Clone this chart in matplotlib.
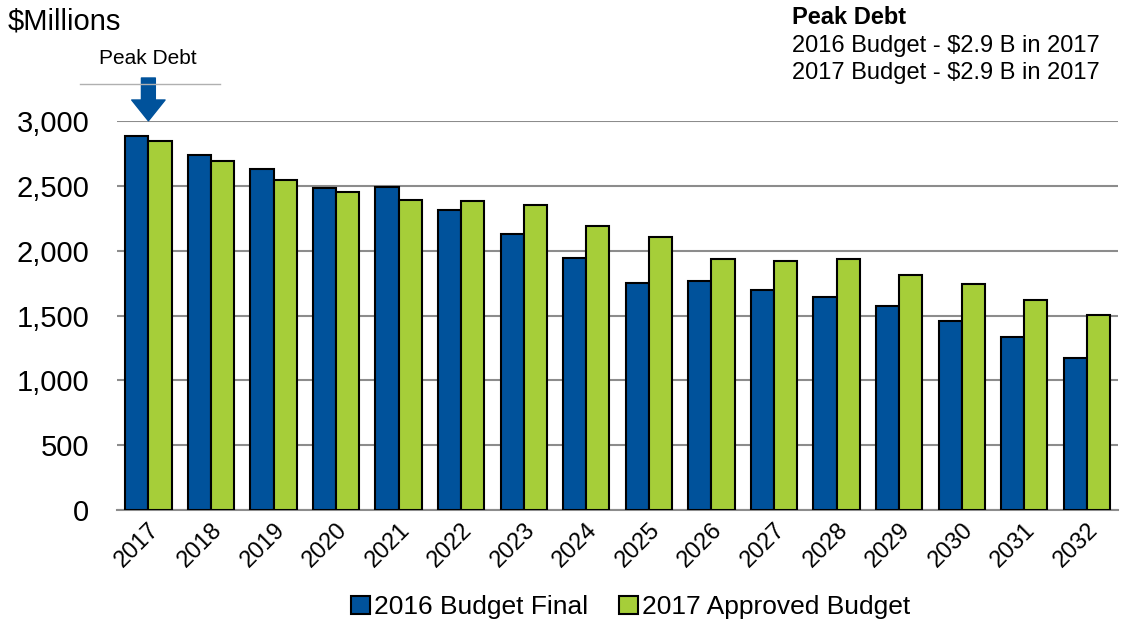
import matplotlib
matplotlib.use("Agg")
import matplotlib.pyplot as plt
import numpy as np

years = ["2017", "2018", "2019", "2020", "2021", "2022", "2023", "2024",
         "2025", "2026", "2027", "2028", "2029", "2030", "2031", "2032"]
budget_2016 = [2884, 2738, 2630, 2483, 2491, 2314, 2129, 1943,
               1751, 1766, 1697, 1643, 1573, 1458, 1334, 1172]
budget_2017 = [2846, 2692, 2545, 2452, 2391, 2383, 2352, 2190,
               2105, 1936, 1920, 1936, 1812, 1743, 1620, 1504]

plt.rcParams['font.family'] = ['Liberation Sans', 'DejaVu Sans']

fig = plt.figure(figsize=(11.26, 6.26), dpi=100)
ax = fig.add_axes([0.104, 0.185, 0.889, 0.622])

x = np.arange(len(years))
w = 0.37
ax.bar(x - w/2, budget_2016, w, color="#00529B", edgecolor="black",
       linewidth=1.5, label="2016 Budget Final", zorder=3)
ax.bar(x + w/2, budget_2017, w, color="#A6CE39", edgecolor="black",
       linewidth=1.5, label="2017 Approved Budget", zorder=3)

ax.set_xlim(-0.5, len(years) - 0.5)
ax.set_ylim(0, 3000)
ax.set_yticks(range(0, 3001, 500))
ax.set_yticklabels([f"{v:,}" for v in range(0, 3001, 500)], fontsize=21)
ax.set_xticks(x)
ax.set_xticklabels(years, rotation=45, ha="right", rotation_mode="anchor",
                   fontsize=17)
ax.tick_params(axis="y", length=0, pad=20)
ax.tick_params(axis="x", length=0, pad=6)
ax.yaxis.grid(True, color="#8c8c8c", linewidth=1.5, zorder=0)
for s in ["top", "right", "left"]:
    ax.spines[s].set_visible(False)
ax.spines["bottom"].set_color("#8c8c8c")
ax.spines["bottom"].set_linewidth(1.5)

# peak debt marker
ax.annotate("", xy=(0, 3000), xytext=(0, 3330),
            arrowprops=dict(facecolor="#00529B", edgecolor="#00529B",
                            width=10, headwidth=24, headlength=15),
            annotation_clip=False)
fig.add_artist(plt.Line2D([80/1126, 220/1126], [1 - 84/626, 1 - 84/626],
                          color="#b0b0b0", linewidth=1))
fig.text(148/1126, 1 - 58/626, "Peak Debt", ha="center", va="center",
         fontsize=15)

fig.text(8/1126, 1 - 22/626, "$Millions", ha="left", va="center", fontsize=21)
fig.text(792/1126, 1 - 18/626, "Peak Debt", ha="left", va="center",
         fontsize=17, fontweight="bold")
fig.text(792/1126, 1 - 46/626, "2016 Budget - $2.9 B in 2017", ha="left",
         va="center", fontsize=17)
fig.text(792/1126, 1 - 73/626, "2017 Budget - $2.9 B in 2017", ha="left",
         va="center", fontsize=17)

fig.legend(loc="center", bbox_to_anchor=(0.56, 1 - 607/626), ncol=2,
           frameon=False, fontsize=19, handlelength=0.7, handleheight=0.7,
           handletextpad=0.15, columnspacing=1.2, borderpad=0)

fig.savefig("out.png", dpi=100)
